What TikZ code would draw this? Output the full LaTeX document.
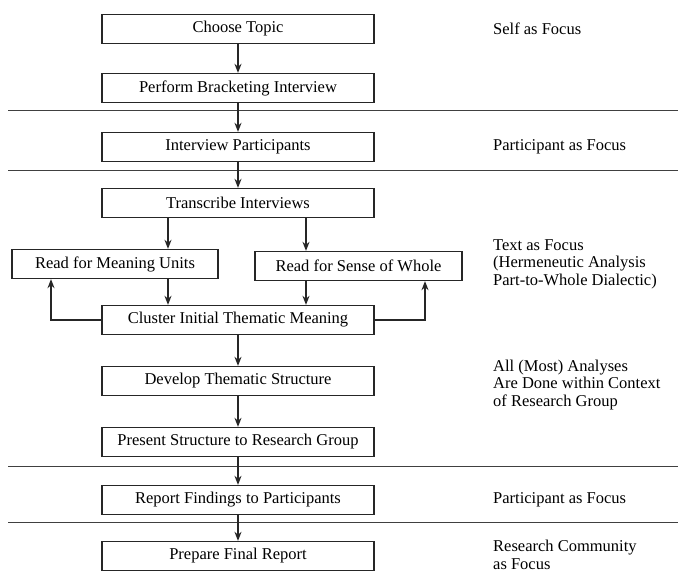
\documentclass[tikz,border=0pt]{standalone}
\usepackage{fontspec}
\setmainfont{Liberation Serif}
\usetikzlibrary{arrows.meta}

\begin{document}
\begin{tikzpicture}[x=1pt,y=-1pt,
  stepbox/.style={draw=black!85,line width=1.3pt,minimum height=29pt,inner sep=0pt,
    font=\fontsize{16.5}{17.5}\selectfont},
  focus/.style={anchor=west,align=left,inner sep=0pt,font=\fontsize{16.5}{17.5}\selectfont},
  flow/.style={draw=black!85,line width=1.5pt,-{Stealth[length=9pt,width=7pt]}},
  band/.style={draw=black!75,line width=1pt}]
  \useasboundingbox (0,0) rectangle (678,573);

  % steps
  \node[stepbox,minimum width=272pt] (topic) at (238,29) {Choose Topic};
  \node[stepbox,minimum width=272pt] (bracket) at (238,88) {Perform Bracketing Interview};
  \node[stepbox,minimum width=272pt] (interview) at (238,147) {Interview Participants};
  \node[stepbox,minimum width=272pt] (transcribe) at (238,203) {Transcribe Interviews};
  \node[stepbox,minimum width=206pt] (meaning) at (115,264) {Read for Meaning Units};
  \node[stepbox,minimum width=207pt] (whole) at (358.5,266) {Read for Sense of Whole};
  \node[stepbox,minimum width=272pt] (cluster) at (238,320) {Cluster Initial Thematic Meaning};
  \node[stepbox,minimum width=272pt] (develop) at (238,381) {Develop Thematic Structure};
  \node[stepbox,minimum width=272pt] (present) at (238,442) {Present Structure to Research Group};
  \node[stepbox,minimum width=272pt] (report) at (238,500) {Report Findings to Participants};
  \node[stepbox,minimum width=272pt] (final) at (238,556) {Prepare Final Report};

  % focus column
  \node[focus] (self) at (493,29) {Self as Focus};
  \node[focus] (partA) at (493,147) {Participant as Focus};
  \node[focus] (text) at (493,264) {Text as Focus\\(Hermeneutic Analysis\\Part-to-Whole Dialectic)};
  \node[focus] (group) at (493,385) {All (Most) Analyses\\Are Done within Context\\of Research Group};
  \node[focus] (partB) at (493,500) {Participant as Focus};
  \node[focus] (community) at (493,555) {Research Community\\as Focus};

  % dividers
  \draw[band] (8,110) -- (678,110);
  \draw[band] (8,170) -- (678,170);
  \draw[band] (8,466) -- (678,466);
  \draw[band] (8,522) -- (678,522);

  \draw[flow] (topic) -- (bracket);
  \draw[flow] (bracket) -- (interview);
  \draw[flow] (interview) -- (transcribe);
  \draw[flow] ([xshift=-70pt]transcribe.south) -- ([xshift=-70pt]transcribe.south |- meaning.north);
  \draw[flow] ([xshift=68pt]transcribe.south) -- ([xshift=68pt]transcribe.south |- whole.north);
  \draw[flow] ([xshift=-70pt]cluster.north |- meaning.south) -- ([xshift=-70pt]cluster.north);
  \draw[flow] ([xshift=68pt]cluster.north |- whole.south) -- ([xshift=68pt]cluster.north);
  \draw[flow] (cluster.west) -| ([xshift=-64pt]meaning.south);
  \draw[flow] (cluster.east) -| ([xshift=66.5pt]whole.south);
  \draw[flow] (cluster) -- (develop);
  \draw[flow] (develop) -- (present);
  \draw[flow] (present) -- (report);
  \draw[flow] (report) -- (final);
\end{tikzpicture}
\end{document}
